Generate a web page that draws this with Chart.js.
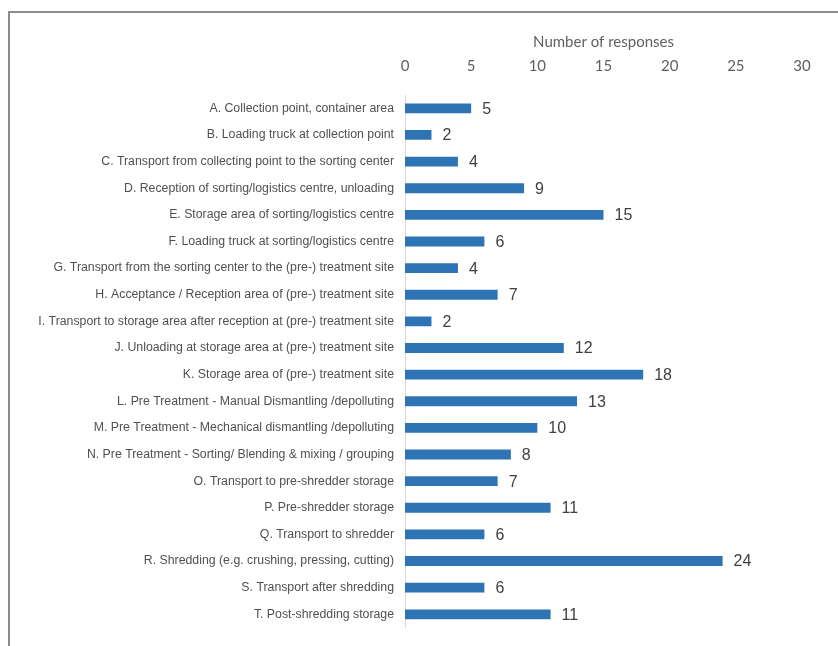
<!DOCTYPE html>
<html>
<head>
<meta charset="utf-8">
<script src="https://cdn.jsdelivr.net/npm/chart.js@4.4.1/dist/chart.umd.min.js"></script>
<style>
  html, body { margin: 0; padding: 0; background: #fff; }
  #wrap { position: relative; width: 838px; height: 646px; overflow: hidden; }
  #frame { position: absolute; left: 8px; top: 11px; width: 900px; height: 700px;
           border-left: 2px solid #8c8c8c; border-top: 2px solid #8c8c8c; }
  #box { position: absolute; left: 0; top: 0; width: 838px; height: 646px; }
</style>
</head>
<body>
<div id="wrap">
  <div id="frame"></div>
  <div id="box"><canvas id="chart"></canvas></div>
</div>
<script>
// Data
const categories = [
  'A. Collection point, container area',
  'B. Loading truck at collection point',
  'C. Transport from collecting point to the sorting center',
  'D. Reception of sorting/logistics centre, unloading',
  'E. Storage area of sorting/logistics centre',
  'F. Loading truck at sorting/logistics centre',
  'G. Transport from the sorting center to the (pre-) treatment site',
  'H. Acceptance / Reception area of (pre-) treatment site',
  'I. Transport to storage area after reception at (pre-) treatment site',
  'J. Unloading at storage area at (pre-) treatment site',
  'K. Storage area of (pre-) treatment site',
  'L. Pre Treatment - Manual Dismantling /depolluting',
  'M. Pre Treatment - Mechanical dismantling /depolluting',
  'N. Pre Treatment - Sorting/ Blending & mixing / grouping',
  'O. Transport to pre-shredder storage',
  'P. Pre-shredder storage',
  'Q. Transport to shredder',
  'R. Shredding (e.g. crushing, pressing, cutting)',
  'S. Transport after shredding',
  'T. Post-shredding storage'
];
const responses = [5, 2, 4, 9, 15, 6, 4, 7, 2, 12, 18, 13, 10, 8, 7, 11, 6, 24, 6, 11];
const axisTitle = 'Number of responses';
const axisMax = 30;
const axisStep = 5;

// value labels to the right of each bar
const valueLabels = {
  id: 'valueLabels',
  afterDatasetsDraw(chart) {
    const ctx = chart.ctx;
    const meta = chart.getDatasetMeta(0);
    ctx.save();
    ctx.font = '16px "Liberation Sans", Arial, sans-serif';
    ctx.fillStyle = '#404040';
    ctx.textAlign = 'left';
    ctx.textBaseline = 'middle';
    meta.data.forEach((bar, i) => {
      ctx.fillText(String(responses[i]), bar.x + 11, bar.y + 1);
    });
    ctx.restore();
  }
};

new Chart(document.getElementById('chart'), {
  type: 'bar',
  data: {
    labels: categories,
    datasets: [{
      data: responses,
      backgroundColor: '#2e74b5',
      borderWidth: 0,
      categoryPercentage: 1,
      barPercentage: 0.37
    }]
  },
  options: {
    indexAxis: 'y',
    responsive: true,
    maintainAspectRatio: false,
    animation: false,
    layout: { padding: { top: 0, right: 36, bottom: 17, left: 0 } },
    plugins: { legend: { display: false }, tooltip: { enabled: false } },
    scales: {
      x: {
        position: 'top',
        min: 0,
        max: axisMax,
        grid: { display: false },
        border: { display: false },
        ticks: {
          stepSize: axisStep,
          padding: 12,
          color: '#606060',
          font: { family: 'Lato, "Open Sans", sans-serif', size: 15 }
        },
        title: {
          display: true,
          text: axisTitle,
          color: '#606060',
          padding: { top: 33, bottom: 0 },
          font: { family: 'Lato, "Open Sans", sans-serif', size: 15 }
        },
        afterFit(scale) { scale.height = 95; }
      },
      y: {
        grid: { display: false, drawTicks: false },
        border: { display: true, color: '#d9d9d9', width: 1 },
        ticks: {
          padding: 11,
          autoSkip: false,
          color: '#505050',
          font: { family: '"Liberation Sans", Arial, sans-serif', size: 12.3 }
        },
        afterFit(scale) { scale.width = 405; }
      }
    }
  },
  plugins: [valueLabels]
});
</script>
</body>
</html>
